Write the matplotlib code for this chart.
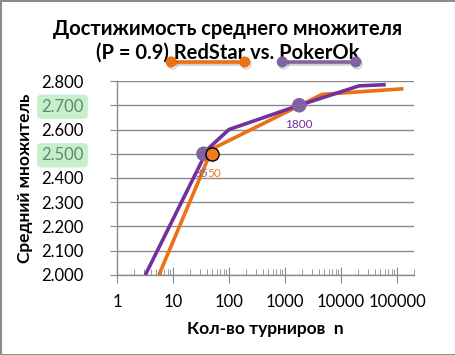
import numpy as np
import matplotlib.pyplot as plt
import matplotlib.patheffects as pe
from matplotlib.lines import Line2D
from matplotlib.ticker import LogLocator, FixedLocator, FuncFormatter, NullFormatter

plt.rcParams['font.family'] = ['Lato', 'DejaVu Sans']

# RedStar curve
red_n = [5.6, 50, 4600, 130000]
red_m = [2.0, 2.52, 2.745, 2.768]
# PokerOk curve
pok_n = [3.2, 42, 100, 1800, 21000, 63000]
pok_m = [2.0, 2.52, 2.6, 2.70, 2.78, 2.785]

# highlighted points
red_pt = (50, 2.5)
pok_pts_n = [35, 1800]
pok_pts_m = [2.5, 2.7]

yticks = [2.0, 2.1, 2.2, 2.3, 2.4, 2.5, 2.6, 2.7, 2.8]
xticks = [1, 10, 100, 1000, 10000, 100000]

c_red = '#ec7014'
c_red_pt = '#f07a1e'
c_pok = '#7030a0'
c_pok_pt = '#8064a2'

fig = plt.figure(figsize=(4.56, 3.55), dpi=100)
fig.patch.set_edgecolor('#8c8c8c')
fig.patch.set_linewidth(2)
ax = fig.add_axes([0.2566, 0.2254, 0.651, 0.5464])

ax.set_xscale('log')
ax.set_xlim(1, 2e5)
ax.set_ylim(2.0, 2.8)

ax.plot(red_n, red_m, color=c_red, lw=2.6, solid_capstyle='butt', zorder=3)
ax.plot(pok_n, pok_m, color=c_pok, lw=2.6, solid_capstyle='butt', zorder=3)
ax.scatter([red_pt[0]], [red_pt[1]], s=90, color=c_red_pt, edgecolor='black',
           linewidth=1, zorder=5)
ax.scatter(pok_pts_n, pok_pts_m, s=110, color=c_pok_pt, edgecolor='none', zorder=4)

ax.annotate('35', (pok_pts_n[0], pok_pts_m[0]), xytext=(-1.5, -14), textcoords='offset points',
            ha='center', va='center', color=c_pok_pt, fontsize=8.5)
ax.annotate('50', (red_pt[0], red_pt[1]), xytext=(1.5, -14), textcoords='offset points',
            ha='center', va='center', color=c_red_pt, fontsize=8.5)
ax.annotate('1800', (pok_pts_n[1], pok_pts_m[1]), xytext=(0, -14), textcoords='offset points',
            ha='center', va='center', color=c_pok, fontsize=8.5)

ax.set_yticks(yticks)
ax.yaxis.set_major_formatter(FuncFormatter(lambda v, p: '%.3f' % v))
ax.xaxis.set_major_locator(FixedLocator(xticks))
ax.xaxis.set_major_formatter(FuncFormatter(lambda v, p: '%d' % v))
ax.xaxis.set_minor_locator(LogLocator(base=10, subs=np.arange(2, 10), numticks=20))
ax.xaxis.set_minor_formatter(NullFormatter())

ax.grid(axis='y', color='#8a8a8a', lw=1)
ax.set_axisbelow(True)
for s in ['top', 'right']:
    ax.spines[s].set_visible(False)
for s in ['left', 'bottom']:
    ax.spines[s].set_color('#8a8a8a')
    ax.spines[s].set_linewidth(1)

ax.tick_params(axis='y', direction='out', length=5, color='#8a8a8a', labelsize=12, pad=19)
ax.tick_params(axis='x', which='major', direction='inout', length=11, color='#8a8a8a',
               labelsize=12, pad=8)
ax.tick_params(axis='x', which='minor', direction='in', length=4, color='#8a8a8a')

for lab in ax.get_yticklabels():
    if lab.get_text() in ('2.700', '2.500'):
        lab.set_color('#5e8a66')
        lab.set_bbox(dict(boxstyle='round,pad=0.25', facecolor='#c6efce', edgecolor='none'))

ax.set_ylabel('Средний множитель', fontsize=12.5, fontweight='bold', labelpad=6)
ax.set_xlabel('Кол-во турниров  n', fontsize=12.5, fontweight='bold', labelpad=8)

fig.text(0.5, 0.918, 'Достижимость среднего множителя', ha='center', va='center',
         fontsize=14.5, fontweight='bold')
fig.text(0.5, 0.851, '(P = 0.9) RedStar vs. PokerOk', ha='center', va='center',
         fontsize=14.5, fontweight='bold')

shadow = [pe.SimpleLineShadow(offset=(1, -1.5), alpha=0.18), pe.Normal()]
handles = [Line2D([], [], color=c_red, lw=2.6, marker='o', markersize=7, path_effects=shadow),
           Line2D([], [], color=c_pok_pt, lw=2.6, marker='o', markersize=7, path_effects=shadow)]
fig.legend(handles, ['', ''], loc='center', bbox_to_anchor=(0.578, 0.823), ncol=2,
           frameon=False, numpoints=2, handlelength=5.9, columnspacing=2.1,
           handletextpad=0, fontsize=10)

fig.savefig('out.png', dpi=100)
